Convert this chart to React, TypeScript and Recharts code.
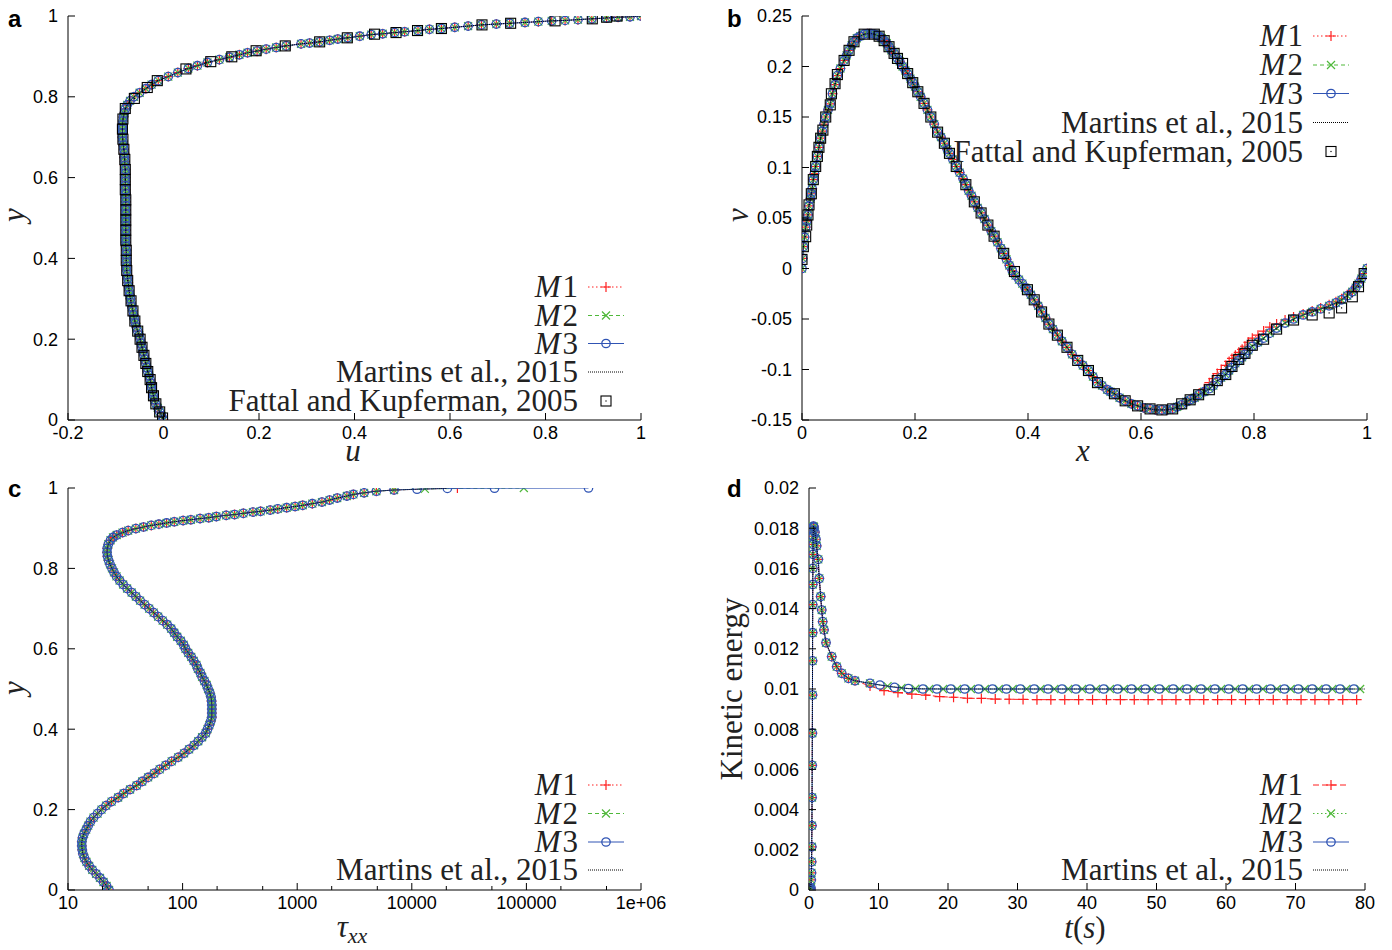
import React from 'react';
import { ScatterChart, Scatter, XAxis, YAxis } from 'recharts';

const RED = '#ff1f1f';
const GREEN = '#4fb83a';
const BLUE = '#3054b4';
const SANS = '"Liberation Sans", Arial, Helvetica, sans-serif';
const SERIF = '"Liberation Serif", "Times New Roman", serif';

// ---------- shared y sampling grid (panels a, c) ----------
const yGrid = [0, 0.01, 0.02, 0.03, 0.04, 0.05, 0.06, 0.07, 0.08, 0.09, 0.1, 0.11, 0.12, 0.13, 0.14, 0.15, 0.16, 0.17, 0.18, 0.19, 0.2, 0.21, 0.22, 0.23, 0.24, 0.25, 0.26, 0.27, 0.28, 0.29, 0.3, 0.31, 0.32, 0.33, 0.34, 0.35, 0.36, 0.37, 0.38, 0.39, 0.4, 0.41, 0.42, 0.43, 0.44, 0.45, 0.46, 0.47, 0.48, 0.49, 0.5, 0.51, 0.52, 0.53, 0.54, 0.55, 0.56, 0.57, 0.58, 0.59, 0.6, 0.61, 0.62, 0.63, 0.64, 0.65, 0.66, 0.67, 0.68, 0.69, 0.7, 0.71, 0.72, 0.73, 0.74, 0.75, 0.76, 0.77, 0.78, 0.79, 0.8, 0.81, 0.82, 0.83, 0.84, 0.85, 0.86];

// ---------- panel a : u(y) ----------
const aBodyU = [0, -0.004, -0.008, -0.012, -0.016, -0.019, -0.021, -0.023, -0.025, -0.026,
  -0.028, -0.03, -0.033, -0.035, -0.037, -0.039, -0.041, -0.043, -0.045, -0.047,
  -0.049, -0.051, -0.054, -0.057, -0.059, -0.061, -0.063, -0.064, -0.066, -0.068,
  -0.069, -0.071, -0.072, -0.073, -0.074, -0.075, -0.076, -0.077, -0.077, -0.078,
  -0.078, -0.078, -0.078, -0.079, -0.079, -0.079, -0.079, -0.079, -0.079, -0.079,
  -0.079, -0.079, -0.079, -0.079, -0.079, -0.079, -0.079, -0.08, -0.08, -0.08,
  -0.08, -0.08, -0.08, -0.081, -0.081, -0.082, -0.082, -0.083, -0.084, -0.085,
  -0.086, -0.086, -0.086, -0.086, -0.085, -0.084, -0.082, -0.08, -0.076, -0.07,
  -0.062, -0.05, -0.037, -0.025, -0.011];
const aTopY = [0.85, 0.86, 0.87, 0.877, 0.885, 0.892, 0.898, 0.904, 0.909, 0.913, 0.918,
  0.922, 0.926, 0.931, 0.933, 0.936, 0.94, 0.943, 0.946, 0.95, 0.954,
  0.956, 0.959, 0.961, 0.964, 0.967, 0.969, 0.972, 0.975, 0.978, 0.98,
  0.982, 0.984, 0.986, 0.988, 0.989, 0.991, 0.993, 0.995, 0.997, 0.998, 1.0];
const aTopU = [0.01, 0.03, 0.052, 0.071, 0.092, 0.117, 0.138, 0.159, 0.176, 0.196, 0.215,
  0.236, 0.257, 0.288, 0.306, 0.327, 0.348, 0.365, 0.386, 0.411, 0.435,
  0.459, 0.484, 0.505, 0.533, 0.557, 0.582, 0.61, 0.638, 0.666, 0.697,
  0.725, 0.757, 0.785, 0.813, 0.841, 0.868, 0.897, 0.928, 0.952, 0.977, 1.0];
const aFattalY = [0.005, 0.02, 0.04, 0.06, 0.08, 0.1, 0.12, 0.14, 0.16, 0.18,
  0.2, 0.22, 0.245, 0.27, 0.295, 0.32, 0.345, 0.37, 0.395, 0.42,
  0.445, 0.47, 0.495, 0.52, 0.545, 0.57, 0.595, 0.62, 0.645, 0.67,
  0.695, 0.72, 0.745, 0.771, 0.796, 0.823, 0.84, 0.869, 0.887, 0.899,
  0.914, 0.926, 0.936, 0.946, 0.955, 0.959, 0.964, 0.969, 0.978, 0.982,
  0.988, 0.993, 0.997, 1.0];
const aFattalU = [-0.002, -0.008, -0.016, -0.021, -0.025, -0.028, -0.033, -0.037, -0.041, -0.045,
  -0.049, -0.054, -0.06, -0.064, -0.068, -0.072, -0.075, -0.077, -0.078, -0.078,
  -0.079, -0.079, -0.079, -0.079, -0.079, -0.08, -0.08, -0.08, -0.081, -0.083,
  -0.085, -0.086, -0.085, -0.08, -0.061, -0.034, -0.013, 0.047, 0.099, 0.143,
  0.194, 0.255, 0.327, 0.385, 0.442, 0.487, 0.532, 0.582, 0.667, 0.727,
  0.82, 0.898, 0.928, 0.95];
const aXTicks = [-0.2, 0, 0.2, 0.4, 0.6, 0.8, 1];
const aYTicks = [0, 0.2, 0.4, 0.6, 0.8, 1];

// ---------- panel b : v(x) ----------
const bHeadX = [0, 0.001, 0.0024, 0.0045, 0.0065, 0.0085, 0.0106, 0.0124, 0.015, 0.0165,
  0.018, 0.02, 0.022, 0.0242, 0.0272, 0.03, 0.033, 0.036, 0.039, 0.042,
  0.046, 0.05, 0.054, 0.0585, 0.0626, 0.068, 0.0745, 0.079, 0.0833, 0.088,
  0.092, 0.097, 0.103, 0.11, 0.116, 0.122, 0.128, 0.132, 0.1365, 0.141,
  0.1454, 0.15, 0.154, 0.158, 0.163, 0.169, 0.173, 0.178, 0.183, 0.187,
  0.192, 0.196, 0.2, 0.205, 0.21, 0.216, 0.222, 0.228, 0.234, 0.24,
  0.246, 0.252, 0.257, 0.261, 0.267, 0.273, 0.279, 0.285, 0.29, 0.295,
  0.3, 0.305, 0.311, 0.317, 0.323, 0.329, 0.335, 0.34, 0.346, 0.352,
  0.357, 0.362, 0.367, 0.372, 0.378, 0.384, 0.39, 0.395, 0.399, 0.405,
  0.411, 0.418, 0.424, 0.431, 0.437, 0.444, 0.452, 0.46, 0.469, 0.478,
  0.488, 0.497, 0.507, 0.515, 0.523, 0.531, 0.54, 0.546, 0.553, 0.562,
  0.572, 0.583, 0.594, 0.605, 0.616, 0.626, 0.637, 0.646, 0.656, 0.664,
  0.672, 0.68, 0.687];
const bHeadV = [0, 0.01, 0.0216, 0.031, 0.041, 0.047, 0.053, 0.062, 0.069, 0.074,
  0.079, 0.088, 0.094, 0.101, 0.111, 0.12, 0.129, 0.136, 0.143, 0.15,
  0.157, 0.163, 0.173, 0.182, 0.191, 0.198, 0.206, 0.211, 0.216, 0.221,
  0.2245, 0.228, 0.23, 0.232, 0.2325, 0.2325, 0.232, 0.231, 0.23, 0.228,
  0.2256, 0.223, 0.2196, 0.216, 0.213, 0.208, 0.205, 0.2, 0.196, 0.193,
  0.188, 0.184, 0.18, 0.175, 0.17, 0.1635, 0.157, 0.15, 0.143, 0.135,
  0.13, 0.124, 0.118, 0.114, 0.108, 0.101, 0.095, 0.089, 0.083, 0.077,
  0.072, 0.066, 0.06, 0.055, 0.049, 0.043, 0.037, 0.032, 0.026, 0.02,
  0.015, 0.009, 0.003, -0.002, -0.007, -0.011, -0.015, -0.019, -0.021, -0.026,
  -0.031, -0.037, -0.043, -0.049, -0.055, -0.06, -0.066, -0.072, -0.078, -0.085,
  -0.091, -0.096, -0.101, -0.107, -0.113, -0.116, -0.12, -0.122, -0.124, -0.128,
  -0.131, -0.134, -0.136, -0.138, -0.139, -0.14, -0.14, -0.14, -0.139, -0.137,
  -0.135, -0.132, -0.13];
const bTailX = [0.695, 0.702, 0.712, 0.721, 0.728, 0.735, 0.742, 0.75, 0.756, 0.761,
  0.767, 0.773, 0.779, 0.784, 0.79, 0.797, 0.807, 0.817, 0.828, 0.84,
  0.855, 0.87, 0.887, 0.903, 0.918, 0.933, 0.945, 0.955, 0.965, 0.974,
  0.98, 0.985, 0.99, 0.995, 1.0];
const bTailM3 = [-0.128, -0.125, -0.122, -0.119, -0.116, -0.112, -0.108, -0.105, -0.101, -0.098,
  -0.094, -0.091, -0.088, -0.085, -0.081, -0.077, -0.073, -0.069, -0.064, -0.059,
  -0.054, -0.05, -0.046, -0.043, -0.04, -0.037, -0.034, -0.031, -0.027, -0.023,
  -0.019, -0.015, -0.01, -0.005, 0];
const bTailM1 = [-0.128, -0.124, -0.119, -0.113, -0.109, -0.104, -0.1, -0.096, -0.092, -0.089,
  -0.086, -0.083, -0.08, -0.077, -0.073, -0.069, -0.066, -0.062, -0.058, -0.055,
  -0.051, -0.048, -0.045, -0.042, -0.039, -0.036, -0.033, -0.03, -0.026, -0.022,
  -0.018, -0.014, -0.01, -0.005, 0];
const bFattalX = [0, 0.0024, 0.0065, 0.0083, 0.0106, 0.0124, 0.0165, 0.02, 0.0242, 0.0272,
  0.03, 0.033, 0.037, 0.042, 0.05, 0.052, 0.0585, 0.0626, 0.0745, 0.0833,
  0.092, 0.11, 0.128, 0.1365, 0.1454, 0.154, 0.163, 0.169, 0.178, 0.187,
  0.196, 0.205, 0.216, 0.228, 0.24, 0.252, 0.261, 0.273, 0.29, 0.305,
  0.317, 0.329, 0.34, 0.357, 0.376, 0.399, 0.411, 0.424, 0.437, 0.452,
  0.469, 0.488, 0.507, 0.523, 0.553, 0.572, 0.594, 0.616, 0.637, 0.656,
  0.672, 0.687, 0.702, 0.721, 0.735, 0.75, 0.761, 0.773, 0.784, 0.797,
  0.817, 0.84, 0.87, 0.903, 0.933, 0.955, 0.974, 0.985, 0.995];
const bFattalV = [0.009, 0.0216, 0.0315, 0.043, 0.053, 0.063, 0.074, 0.088, 0.101, 0.111,
  0.12, 0.129, 0.137, 0.15, 0.162, 0.173, 0.183, 0.192, 0.206, 0.216,
  0.2245, 0.232, 0.232, 0.23, 0.2256, 0.2196, 0.213, 0.208, 0.203, 0.193,
  0.184, 0.175, 0.1635, 0.15, 0.135, 0.124, 0.114, 0.101, 0.083, 0.066,
  0.055, 0.043, 0.032, 0.015, -0.003, -0.021, -0.031, -0.043, -0.055, -0.066,
  -0.078, -0.091, -0.101, -0.113, -0.124, -0.131, -0.136, -0.139, -0.14, -0.139,
  -0.134, -0.13, -0.125, -0.12, -0.111, -0.105, -0.097, -0.09, -0.084, -0.076,
  -0.07, -0.06, -0.051, -0.046, -0.044, -0.039, -0.028, -0.018, -0.005];
const bXTicks = [0, 0.2, 0.4, 0.6, 0.8, 1];
const bYTicks = [-0.15, -0.1, -0.05, 0, 0.05, 0.1, 0.15, 0.2, 0.25];

// ---------- panel c : tau_xx(y) ----------
const cBodyTau = [22.8, 21.7, 20.4, 19.0, 17.6, 16.3, 15.3, 14.5, 13.9, 13.5,
  13.3, 13.2, 13.2, 13.4, 13.8, 14.4, 15.0, 15.7, 16.7, 18.1,
  19.6, 21.5, 24.0, 27.4, 30.6, 34.8, 39.7, 44.4, 50.0, 56.5,
  63.1, 71.2, 80.3, 91.5, 103, 114, 126, 137, 148, 159,
  165, 171, 176, 180, 180, 180, 180, 179, 177, 173,
  167, 162, 155, 148, 143, 136, 132, 125, 119, 112,
  106, 102, 96.3, 89.7, 84.5, 79.5, 73.4, 67.0, 61.2, 55.9,
  51.1, 46.6, 42.6, 39.1, 35.9, 32.8, 30.3, 28.2, 26.5, 25.2,
  24.2, 23.3, 22.6, 22.1, 21.9, 22.0, 22.5];
const cUpperY = [0.87, 0.877, 0.883, 0.889, 0.894, 0.899, 0.903, 0.907, 0.91, 0.913,
  0.916, 0.919, 0.921, 0.924, 0.926, 0.929, 0.932, 0.934, 0.937, 0.94,
  0.942, 0.945, 0.948, 0.951, 0.954, 0.957, 0.961, 0.965, 0.97, 0.975,
  0.98, 0.984, 0.988, 0.992, 0.995];
const cUpperTau = [23.5, 24.7, 26.6, 29.9, 33.5, 39.1, 45.6, 53.3, 62.1, 72.5,
  84.6, 101, 118, 142, 169, 197, 240, 284, 339, 411,
  479, 581, 677, 809, 959, 1117, 1355, 1644, 1916, 2237,
  2714, 3093, 3837, 4906, 7002];
const cM3TailY = [0.997, 0.999, 0.9995, 1.0];
const cM3TailTau = [11110, 20440, 52720, 348300];
const cM2TailY = [0.998, 1.0];
const cM2TailTau = [13000, 95000];
const cM1TailY = [1.0];
const cM1TailTau = [25000];
const cMartinsTailY = [0.999];
const cMartinsTailTau = [20000];
const cXTicks = [10, 100, 1000, 10000, 100000, 1000000];
const cXMinor = [20, 50, 200, 500, 2000, 5000, 20000, 50000, 200000, 500000];
const cYTicks = [0, 0.2, 0.4, 0.6, 0.8, 1];

// ---------- panel d : kinetic energy(t) ----------
const dEarlyT = [0, 0.1, 0.2, 0.28, 0.32, 0.35, 0.38, 0.4, 0.42, 0.44,
  0.46, 0.48, 0.5, 0.51, 0.52, 0.53, 0.54, 0.55, 0.56, 0.57,
  0.58, 0.6, 0.64, 0.72, 0.85, 1.0, 1.1, 1.34, 1.48, 1.68,
  1.83, 1.97, 2.16, 2.45, 3.27, 3.99, 4.71, 5.67, 6.62, 8.78];
const dEarlyKE = [0, 0, 0.00005, 0.0001, 0.0005, 0.00085, 0.0014, 0.00215, 0.0032, 0.0046,
  0.0062, 0.0078, 0.0097, 0.0114, 0.0128, 0.0142, 0.0152, 0.016, 0.0167, 0.0172,
  0.0176, 0.0179, 0.0181, 0.01805, 0.0178, 0.01745, 0.01712, 0.01645, 0.0155, 0.0146,
  0.01393, 0.01335, 0.01294, 0.0123, 0.01161, 0.01111, 0.01078, 0.01053, 0.01041, 0.01028];
const dM3LateT = [10.2, 12.3, 14.3, 16.4, 18.4, 20.4, 22.4, 24.4, 26.4, 28.4,
  30.4, 32.4, 34.4, 36.4, 38.4, 40.4, 42.4, 44.4, 46.4, 48.4,
  50.4, 52.4, 54.4, 56.4, 58.4, 60.4, 62.4, 64.4, 66.4, 68.4,
  70.4, 72.4, 74.4, 76.4, 78.4];
const dM3LateKE = [0.0102, 0.01008, 0.01002, 0.01, 0.01, 0.01, 0.01, 0.01, 0.01, 0.01,
  0.01, 0.01, 0.01, 0.01, 0.01, 0.01, 0.01, 0.01, 0.01, 0.01,
  0.01, 0.01, 0.01, 0.01, 0.01, 0.01, 0.01, 0.01, 0.01, 0.01,
  0.01, 0.01, 0.01, 0.01, 0.01];
const dM2LateT = [11.3, 13.3, 15.3, 17.3, 19.3, 21.3, 23.3, 25.3, 27.3, 29.3,
  31.3, 33.3, 35.3, 37.3, 39.3, 41.3, 43.3, 45.3, 47.3, 49.3,
  51.3, 53.3, 55.3, 57.3, 59.3, 61.3, 63.3, 65.3, 67.3, 69.3,
  71.3, 73.3, 75.3, 77.3, 79.3];
const dM2LateKE = [0.01014, 0.01005, 0.01001, 0.01, 0.01, 0.01, 0.01, 0.01, 0.01, 0.01,
  0.01, 0.01, 0.01, 0.01, 0.01, 0.01, 0.01, 0.01, 0.01, 0.01,
  0.01, 0.01, 0.01, 0.01, 0.01, 0.01, 0.01, 0.01, 0.01, 0.01,
  0.01, 0.01, 0.01, 0.01, 0.01];
const dM1LateT = [8.78, 10.8, 12.8, 14.8, 16.8, 18.8, 20.8, 22.8, 24.8, 26.8,
  28.8, 30.8, 32.8, 34.8, 36.8, 38.8, 40.8, 42.8, 44.8, 46.8,
  48.8, 50.8, 52.8, 54.8, 56.8, 58.8, 60.8, 62.8, 64.8, 66.8,
  68.8, 70.8, 72.8, 74.8, 76.8, 78.8];
const dM1LateKE = [0.01015, 0.00992, 0.00982, 0.00975, 0.0097, 0.00962, 0.00959, 0.00954, 0.00953, 0.0095,
  0.00949, 0.00948, 0.00947, 0.00947, 0.00947, 0.00947, 0.00947, 0.00947, 0.00947, 0.00947,
  0.00947, 0.00947, 0.00947, 0.00947, 0.00947, 0.00947, 0.00947, 0.00947, 0.00947, 0.00947,
  0.00947, 0.00947, 0.00947, 0.00947, 0.00947, 0.00947];
const dMartinsT = [0, 0.25, 0.35, 0.42, 0.48, 0.52, 0.56, 0.6, 0.64, 0.85, 1.1, 1.48, 1.83, 2.16, 2.45, 3.27, 3.99, 4.71, 5.67, 6.62, 8.78, 10.2, 14.3, 20, 40, 60, 80];
const dMartinsKE = [0, 0.00005, 0.00085, 0.0032, 0.0078, 0.0128, 0.016, 0.0176, 0.0181, 0.0178, 0.01712, 0.0155, 0.01393, 0.01294, 0.0123, 0.01161, 0.01111, 0.01078, 0.01053, 0.01041, 0.01028, 0.0102, 0.01002, 0.01, 0.01, 0.01, 0.01];
const dXTicks = [0, 10, 20, 30, 40, 50, 60, 70, 80];
const dYTicks = [0, 0.002, 0.004, 0.006, 0.008, 0.01, 0.012, 0.014, 0.016, 0.018, 0.02];

// ---------- build tables ----------
const pts = (xs: number[], ys: number[]) => xs.map((x, i) => ({ x, y: ys[i] }));

const aBody = aBodyU.map((u, i) => ({ x: u, y: yGrid[i] }));
const aCurve = [...aBody, ...pts(aTopU, aTopY)];
const aFattal = pts(aFattalU, aFattalY);

const bHead = pts(bHeadX, bHeadV);
const bM3 = [...bHead, ...pts(bTailX, bTailM3)];
const bM1 = [...bHead, ...pts(bTailX, bTailM1)];
const bFattal = pts(bFattalX, bFattalV);

const cBody = [...cBodyTau.map((t, i) => ({ x: t, y: yGrid[i] })), ...pts(cUpperTau, cUpperY)];
const cM3 = [...cBody, ...pts(cM3TailTau, cM3TailY)];
const cM2 = [...cBody, ...pts(cM2TailTau, cM2TailY)];
const cM1 = [...cBody, ...pts(cM1TailTau, cM1TailY)];
const cMartins = [...cBody, ...pts(cMartinsTailTau, cMartinsTailY)];

const dEarly = pts(dEarlyT, dEarlyKE);
const dM3 = [...dEarly, ...pts(dM3LateT, dM3LateKE)];
const dM2 = [...dEarly, ...pts(dM2LateT, dM2LateKE)];
const dM1 = [...dEarly.slice(0, 39), ...pts(dM1LateT, dM1LateKE)];
const dMartins = pts(dMartinsT, dMartinsKE);

// ---------- marker shapes ----------
const Plus = (p: any) => (p.cx == null ? <g /> :
  <path d={`M${p.cx - 5},${p.cy}H${p.cx + 5}M${p.cx},${p.cy - 5}V${p.cy + 5}`} stroke={RED} strokeWidth={1.2} fill="none" />);
const Cross = (p: any) => (p.cx == null ? <g /> :
  <path d={`M${p.cx - 4},${p.cy - 4}L${p.cx + 4},${p.cy + 4}M${p.cx - 4},${p.cy + 4}L${p.cx + 4},${p.cy - 4}`} stroke={GREEN} strokeWidth={1.2} fill="none" />);
const Ring = (p: any) => (p.cx == null ? <g /> :
  <circle cx={p.cx} cy={p.cy} r={4.2} stroke={BLUE} strokeWidth={1.3} fill="none" />);
const Box = (p: any) => (p.cx == null ? <g /> :
  <g>
    <rect x={p.cx - 5} y={p.cy - 5} width={10} height={10} stroke="#000" strokeWidth={1.1} fill="none" />
    <rect x={p.cx - 0.6} y={p.cy - 0.6} width={1.2} height={1.2} fill="#000" />
  </g>);
const NoMark = () => <g />;

// ---------- ticks (inward, gnuplot style) ----------
type Side = 'bottom' | 'top' | 'left' | 'right';
const mkTick = (side: Side, fmt?: (v: number) => string, minor?: number[]) => (p: any) => {
  const v = p.payload ? p.payload.value : 0;
  const isMinor = minor ? minor.includes(v) : false;
  const L = isMinor ? 4 : 7;
  const x = p.x, y = p.y;
  let ln: React.ReactNode;
  if (side === 'bottom') ln = <line x1={x} x2={x} y1={y} y2={y - L} stroke="#000" />;
  else if (side === 'top') ln = <line x1={x} x2={x} y1={y} y2={y + L} stroke="#000" />;
  else if (side === 'left') ln = <line x1={x} x2={x + L} y1={y} y2={y} stroke="#000" />;
  else ln = <line x1={x} x2={x - L} y1={y} y2={y} stroke="#000" />;
  let lb: React.ReactNode = null;
  if (fmt && !isMinor) {
    if (side === 'bottom') lb = <text x={x} y={y + 6} dy="0.71em" textAnchor="middle" fontFamily={SANS} fontSize={18} fill="#000">{fmt(v)}</text>;
    if (side === 'left') lb = <text x={x - 10} y={y} dy="0.35em" textAnchor="end" fontFamily={SANS} fontSize={18} fill="#000">{fmt(v)}</text>;
  }
  return <g>{ln}{lb}</g>;
};
const fmtStd = (v: number) => String(v);
const fmtLog = (v: number) => (v === 1000000 ? '1e+06' : String(v));

const axisBase = {
  type: 'number' as const,
  allowDataOverflow: true,
  interval: 0 as const,
  tickSize: 0,
  tickMargin: 0,
  tickLine: false,
  axisLine: { stroke: '#000', strokeWidth: 1 },
};

const lineStyle = (stroke: string, dash?: string) => ({ stroke, strokeWidth: 1, strokeDasharray: dash, fill: 'none' });

function axes(xDomain: [number, number], yDomain: [number, number], xTicks: number[], yTicks: number[], xFmt: (v: number) => string, yFmt: (v: number) => string, log?: boolean, minor?: number[]) {
  const xt = minor ? [...xTicks, ...minor].sort((p, q) => p - q) : xTicks;
  const scale = log ? ('log' as const) : ('auto' as const);
  return [
    <XAxis key="xb" xAxisId="b" dataKey="x" {...axisBase} scale={scale} domain={xDomain} ticks={xt} height={30} tick={mkTick('bottom', xFmt, minor)} />,
    <XAxis key="xt" xAxisId="t" orientation="top" dataKey="x" {...axisBase} scale={scale} domain={xDomain} ticks={xt} height={0} tick={mkTick('top', undefined, minor)} />,
    <YAxis key="yl" yAxisId="l" dataKey="y" {...axisBase} domain={yDomain} ticks={yTicks} width={60} tick={mkTick('left', yFmt)} />,
    <YAxis key="yr" yAxisId="r" orientation="right" dataKey="y" {...axisBase} domain={yDomain} ticks={yTicks} width={0} tick={mkTick('right')} />,
  ];
}

// ---------- legend overlay ----------
const MLabel = (n: string) => (<><tspan fontStyle="italic">M</tspan><tspan dx={2}>{n}</tspan></>);

function LegendRow(props: { right: number; cy: number; label: React.ReactNode; color?: string; dash?: string; Marker?: (p: any) => React.ReactNode }) {
  const { right, cy, label, color, dash, Marker } = props;
  const x1 = right + 10, x2 = right + 46, mx = right + 28;
  return (
    <g>
      <text x={right} y={cy + 10} textAnchor="end" fontFamily={SERIF} fontSize={31} fill="#222">{label}</text>
      {color ? <line x1={x1} x2={x2} y1={cy} y2={cy} stroke={color} strokeWidth={1} strokeDasharray={dash} /> : null}
      {Marker ? Marker({ cx: mx, cy }) : null}
    </g>
  );
}

export default function App() {
  const chartWrap = (left: number, top: number): React.CSSProperties => ({ position: 'absolute', left, top });
  return (
    <div style={{ position: 'absolute', left: 0, top: 0, width: 1392, height: 950, background: '#fff', overflow: 'hidden' }}>
      {/* panel a */}
      <div style={chartWrap(0, 0)}>
        <ScatterChart width={700} height={470} margin={{ top: 16, right: 59, bottom: 20, left: 8 }}>
          {axes([-0.2, 1], [0, 1], aXTicks, aYTicks, fmtStd, fmtStd)}
          <Scatter xAxisId="b" yAxisId="l" data={aCurve} shape={Plus} line={lineStyle(RED, '1.5 2.5')} isAnimationActive={false} />
          <Scatter xAxisId="b" yAxisId="l" data={aCurve} shape={Cross} line={lineStyle(GREEN, '4 3')} isAnimationActive={false} />
          <Scatter xAxisId="b" yAxisId="l" data={aCurve} shape={Ring} line={lineStyle(BLUE)} isAnimationActive={false} />
          <Scatter xAxisId="b" yAxisId="l" data={aCurve} shape={NoMark} line={lineStyle('#000', '1 1')} isAnimationActive={false} />
          <Scatter xAxisId="b" yAxisId="l" data={aFattal} shape={Box} isAnimationActive={false} />
        </ScatterChart>
      </div>
      {/* panel b */}
      <div style={chartWrap(700, 0)}>
        <ScatterChart width={692} height={470} margin={{ top: 16, right: 25, bottom: 20, left: 42 }}>
          {axes([0, 1], [-0.15, 0.25], bXTicks, bYTicks, fmtStd, fmtStd)}
          <Scatter xAxisId="b" yAxisId="l" data={bM1} shape={Plus} line={lineStyle(RED, '1.5 2.5')} isAnimationActive={false} />
          <Scatter xAxisId="b" yAxisId="l" data={bM3} shape={Cross} line={lineStyle(GREEN, '4 3')} isAnimationActive={false} />
          <Scatter xAxisId="b" yAxisId="l" data={bM3} shape={Ring} line={lineStyle(BLUE)} isAnimationActive={false} />
          <Scatter xAxisId="b" yAxisId="l" data={bM3} shape={NoMark} line={lineStyle('#000', '1 1')} isAnimationActive={false} />
          <Scatter xAxisId="b" yAxisId="l" data={bFattal} shape={Box} isAnimationActive={false} />
        </ScatterChart>
      </div>
      {/* panel c */}
      <div style={chartWrap(0, 470)}>
        <ScatterChart width={700} height={480} margin={{ top: 18, right: 59, bottom: 30, left: 8 }}>
          {axes([10, 1000000], [0, 1], cXTicks, cYTicks, fmtLog, fmtStd, true, cXMinor)}
          <Scatter xAxisId="b" yAxisId="l" data={cM1} shape={Plus} line={lineStyle(RED, '1.5 2.5')} isAnimationActive={false} />
          <Scatter xAxisId="b" yAxisId="l" data={cM2} shape={Cross} line={lineStyle(GREEN, '4 3')} isAnimationActive={false} />
          <Scatter xAxisId="b" yAxisId="l" data={cM3} shape={Ring} line={lineStyle(BLUE)} isAnimationActive={false} />
          <Scatter xAxisId="b" yAxisId="l" data={cMartins} shape={NoMark} line={lineStyle('#000', '1 1')} isAnimationActive={false} />
        </ScatterChart>
      </div>
      {/* panel d */}
      <div style={chartWrap(700, 470)}>
        <ScatterChart width={692} height={480} margin={{ top: 18, right: 27, bottom: 30, left: 49 }}>
          {axes([0, 80], [0, 0.02], dXTicks, dYTicks, fmtStd, fmtStd)}
          <Scatter xAxisId="b" yAxisId="l" data={dM1} shape={Plus} line={lineStyle(RED, '6 3')} isAnimationActive={false} />
          <Scatter xAxisId="b" yAxisId="l" data={dM2} shape={Cross} line={lineStyle(GREEN, '1.5 2.5')} isAnimationActive={false} />
          <Scatter xAxisId="b" yAxisId="l" data={dM3} shape={Ring} line={lineStyle(BLUE)} isAnimationActive={false} />
          <Scatter xAxisId="b" yAxisId="l" data={dMartins} shape={NoMark} line={lineStyle('#000', '1 1')} isAnimationActive={false} />
        </ScatterChart>
      </div>

      <svg width={1392} height={950} style={{ position: 'absolute', left: 0, top: 0, pointerEvents: 'none' }}>
        {/* panel letters */}
        <g fontFamily={SANS} fontWeight="bold" fontSize={24} fill="#000">
          <text x={8} y={27}>a</text>
          <text x={727} y={27}>b</text>
          <text x={8} y={497}>c</text>
          <text x={727} y={497}>d</text>
        </g>
        {/* axis titles */}
        <g fontFamily={SERIF} fontSize={31} fill="#222">
          <text x={353} y={461} textAnchor="middle" fontStyle="italic">u</text>
          <text x={24} y={215} textAnchor="middle" fontStyle="italic" transform="rotate(-90 24 215)">y</text>
          <text x={1083} y={461} textAnchor="middle" fontStyle="italic">x</text>
          <text x={748} y={215} textAnchor="middle" fontStyle="italic" transform="rotate(-90 748 215)">v</text>
          <text x={352} y={937} textAnchor="middle"><tspan fontStyle="italic">τ</tspan><tspan fontStyle="italic" fontSize={22} dy={6}>xx</tspan></text>
          <text x={24} y={688} textAnchor="middle" fontStyle="italic" transform="rotate(-90 24 688)">y</text>
          <text x={742} y={689} textAnchor="middle" transform="rotate(-90 742 689)">Kinetic energy</text>
          <text x={1085} y={938} textAnchor="middle"><tspan fontStyle="italic">t</tspan>(<tspan fontStyle="italic">s</tspan>)</text>
        </g>
        {/* legend a */}
        <LegendRow right={578} cy={287} label={MLabel('1')} color={RED} dash="1.5 2.5" Marker={Plus} />
        <LegendRow right={578} cy={315.5} label={MLabel('2')} color={GREEN} dash="4 3" Marker={Cross} />
        <LegendRow right={578} cy={343.5} label={MLabel('3')} color={BLUE} Marker={Ring} />
        <LegendRow right={578} cy={372} label="Martins et al., 2015" color="#000" dash="1 1" />
        <LegendRow right={578} cy={401} label="Fattal and Kupferman, 2005" Marker={Box} />
        {/* legend b */}
        <LegendRow right={1303} cy={36} label={MLabel('1')} color={RED} dash="1.5 2.5" Marker={Plus} />
        <LegendRow right={1303} cy={65} label={MLabel('2')} color={GREEN} dash="4 3" Marker={Cross} />
        <LegendRow right={1303} cy={93.5} label={MLabel('3')} color={BLUE} Marker={Ring} />
        <LegendRow right={1303} cy={122.5} label="Martins et al., 2015" color="#000" dash="1 1" />
        <LegendRow right={1303} cy={151.5} label="Fattal and Kupferman, 2005" Marker={Box} />
        {/* legend c */}
        <LegendRow right={578} cy={785} label={MLabel('1')} color={RED} dash="1.5 2.5" Marker={Plus} />
        <LegendRow right={578} cy={813.5} label={MLabel('2')} color={GREEN} dash="4 3" Marker={Cross} />
        <LegendRow right={578} cy={842} label={MLabel('3')} color={BLUE} Marker={Ring} />
        <LegendRow right={578} cy={870} label="Martins et al., 2015" color="#000" dash="1 1" />
        {/* legend d */}
        <LegendRow right={1303} cy={785} label={MLabel('1')} color={RED} dash="6 3" Marker={Plus} />
        <LegendRow right={1303} cy={813.5} label={MLabel('2')} color={GREEN} dash="1.5 2.5" Marker={Cross} />
        <LegendRow right={1303} cy={842} label={MLabel('3')} color={BLUE} Marker={Ring} />
        <LegendRow right={1303} cy={870} label="Martins et al., 2015" color="#000" dash="1 1" />
      </svg>
    </div>
  );
}
